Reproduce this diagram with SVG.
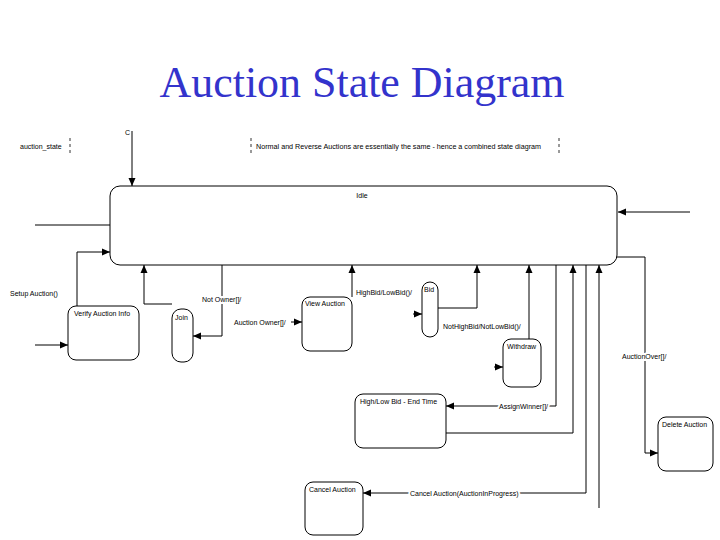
<svg xmlns="http://www.w3.org/2000/svg" width="720" height="540" viewBox="0 0 720 540">
<style>
.t{font-family:"Liberation Sans",Arial,sans-serif;font-size:7px;fill:#000}
.bg{paint-order:stroke;stroke:#fff;stroke-width:4px;stroke-linejoin:round}
.st{fill:#fff;stroke:#000;stroke-width:1}
.c{fill:none;stroke:#000;stroke-width:1}
.n{fill:none;stroke:#000;stroke-width:0.8;stroke-dasharray:3,3}
</style>
<defs>
<marker id="a" markerUnits="userSpaceOnUse" markerWidth="8" markerHeight="8" refX="8" refY="4" orient="auto">
<path d="M0,0.5 L8,4 L0,7.5 z" fill="#000"/>
</marker>
</defs>
<rect width="720" height="540" fill="#fff"/>
<text x="362" y="97" text-anchor="middle" font-family="Liberation Serif,Times New Roman,serif" font-size="44" fill="#3333cc" textLength="405" lengthAdjust="spacingAndGlyphs">Auction State Diagram</text>

<g id="note_state">
<text class="t" x="20" y="149">auction_state</text>
<path class="n" d="M70,138 V154"/>
</g>
<g id="note_combined">
<path class="n" d="M251,138 V154 M559,138 V154"/>
<text class="t" x="256" y="149" textLength="285" lengthAdjust="spacingAndGlyphs">Normal and Reverse Auctions are essentially the same - hence a combined state diagram</text>
</g>
<g id="initial"><text class="t" x="125" y="135">C</text></g>

<g id="connectors">
<path class="c" d="M132,131 V186" marker-end="url(#a)"/>
<path class="c" d="M110,225 H35"/>
<path class="c" d="M35,345 H68" marker-end="url(#a)"/>
<path class="c" d="M77,306 V252 H110" marker-end="url(#a)"/>
<path class="c" d="M172,304 H144 V265" marker-end="url(#a)"/>
<path class="c" d="M222,265 V336 H193" marker-end="url(#a)"/>
<path class="c" d="M291,322 H302" marker-end="url(#a)"/>
<path class="c" d="M352,297 V265" marker-end="url(#a)"/>
<path class="c" d="M413,314 H422" marker-end="url(#a)"/>
<path class="c" d="M438,308 H477 V265" marker-end="url(#a)"/>
<path class="c" d="M494,367 H503" marker-end="url(#a)"/>
<path class="c" d="M529,339 V265" marker-end="url(#a)"/>
<path class="c" d="M556,265 V406 H446" marker-end="url(#a)"/>
<path class="c" d="M446,433 H573 V265" marker-end="url(#a)"/>
<path class="c" d="M586,265 V493 H363" marker-end="url(#a)"/>
<path class="c" d="M599,508 V265" marker-end="url(#a)"/>
<path class="c" d="M612,257 H645 V453 H658" marker-end="url(#a)"/>
<path class="c" d="M690,212 H618" marker-end="url(#a)"/>
<text class="t" x="10" y="296">Setup Auction()</text>
<text class="t bg" x="202" y="302">Not Owner[]/</text>
<text class="t" x="234" y="325">Auction Owner[]/</text>
<text class="t" x="356" y="295">HighBid/LowBid()/</text>
<text class="t" x="443" y="329">NotHighBid/NotLowBid()/</text>
<text class="t bg" x="499" y="409">AssignWinner[]/</text>
<text class="t bg" x="410" y="496">Cancel Auction(AuctionInProgress)</text>
<text class="t bg" x="622" y="359">AuctionOver[]/</text>
</g>

<g id="idle"><rect class="st" x="110" y="186" width="507" height="79" rx="10"/><text class="t" x="362" y="198" text-anchor="middle">Idle</text></g>
<g id="verify"><rect class="st" x="68" y="306" width="71" height="54" rx="8"/><text class="t" x="74" y="316">Verify Auction Info</text></g>
<g id="join"><rect class="st" x="172" y="309" width="21" height="53" rx="9"/><text class="t" x="175" y="320">Join</text></g>
<g id="view"><rect class="st" x="302" y="297" width="50" height="54" rx="8"/><text class="t" x="305" y="306">View Auction</text></g>
<g id="bid"><rect class="st" x="422" y="282" width="16" height="55" rx="8"/><text class="t" x="424" y="292">Bid</text></g>
<g id="withdraw"><rect class="st" x="503" y="339" width="38" height="48" rx="8"/><text class="t" x="507" y="349">Withdraw</text></g>
<g id="highlow"><rect class="st" x="355" y="394" width="91" height="54" rx="8"/><text class="t" x="360" y="404">High/Low Bid - End Time</text></g>
<g id="cancel"><rect class="st" x="305" y="482" width="58" height="53" rx="8"/><text class="t" x="309" y="492">Cancel Auction</text></g>
<g id="delete"><rect class="st" x="658" y="417" width="55" height="54" rx="8"/><text class="t" x="662" y="427">Delete Auction</text></g>
</svg>
